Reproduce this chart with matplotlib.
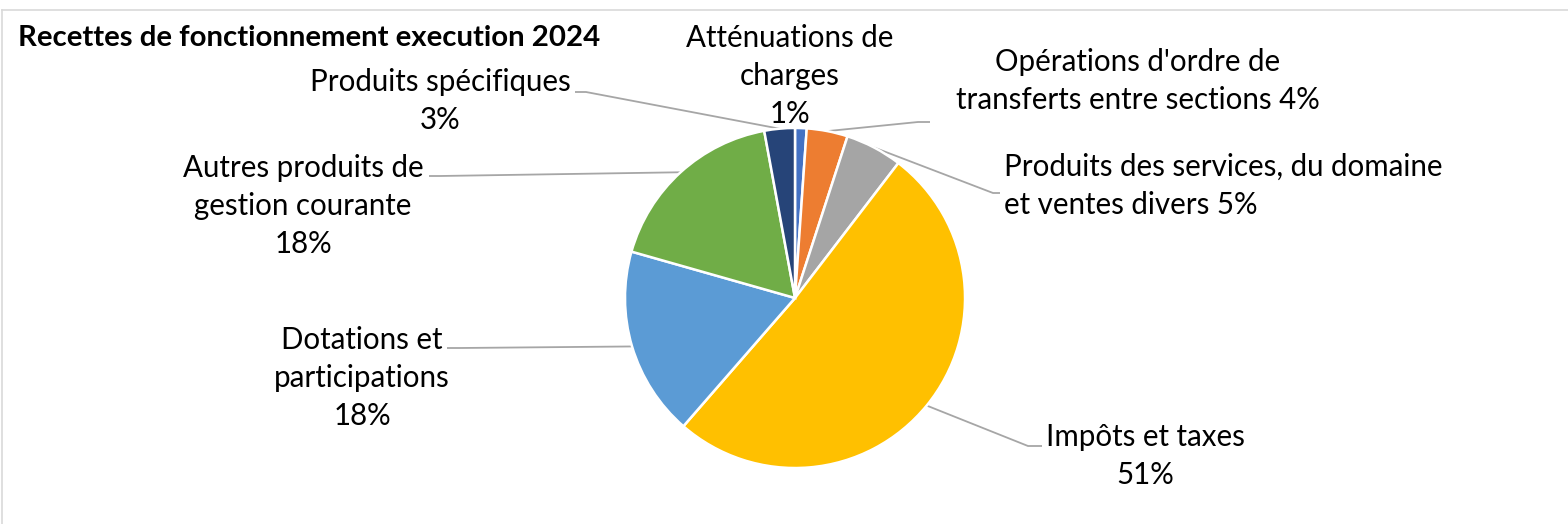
import matplotlib
matplotlib.use("Agg")
import matplotlib.pyplot as plt
from matplotlib.lines import Line2D
import numpy as np

# ---------------- data ----------------
title = "Recettes de fonctionnement execution 2024"
categories = [
    "Atténuations de\ncharges",
    "Opérations d'ordre de\ntransferts entre sections",
    "Produits des services, du domaine\net ventes divers",
    "Impôts et taxes",
    "Dotations et\nparticipations",
    "Autres produits de\ngestion courante",
    "Produits spécifiques",
]
shares = [1.1, 3.9, 5.4, 51.0, 18.0, 17.7, 2.9]
colors = ["#4472C4", "#ED7D31", "#A5A5A5", "#FFC000", "#5B9BD5", "#70AD47", "#264478"]
pct_sep = ["\n", " ", " ", "\n", "\n", "\n", "\n"]
explode = [0, 0, 0, 0.03, 0, 0, 0]

# ---------------- layout (pixel coords, y from top) ----------------
W, H = 1568, 524
FONT = "Lato"
fig = plt.figure(figsize=(W / 100, H / 100), dpi=100)
ax = fig.add_axes([0, 0, 1, 1])

def Y(y):
    return H - y

cx, cy, R = 795, 298, 170

wedges, _ = ax.pie(shares, colors=colors, startangle=90, counterclock=False,
                   center=(cx, Y(cy)), radius=R, explode=explode,
                   wedgeprops=dict(edgecolor="white", linewidth=1.8))
ax.set_xlim(0, W)
ax.set_ylim(0, H)
ax.set_aspect("equal")
ax.axis("off")

# fit font sizes so that reference lines have the widths seen in the chart
def fit(text, target, weight="normal"):
    probe = ax.text(0, 0, text, fontsize=20, family=FONT, fontweight=weight)
    fig.canvas.draw()
    wpx = probe.get_window_extent().width
    probe.remove()
    return 20 * target / wpx

fs = fit("Produits des services, du domaine", 440)
fs_title = fit(title, 584, "bold")

# label placement: (x, y block center, ha, leader points after the wedge point)
label_style = [
    (790, 76, "center", None),
    (1138, 81, "center", [(918, 122), (930, 122)]),
    (1004, 186, "left", [(993, 193), (1000, 193)]),
    (1145, 456, "center", [(1028, 446), (1042, 446)]),
    (362, 378, "center", [(460, 348), (447, 348)]),
    (303, 206, "center", [(440, 176), (429, 176)]),
    (440, 101, "center", [(586, 92), (575, 92)]),
]

for w, cat, v, sep, (tx, ty, ha, leader) in zip(wedges, categories, shares, pct_sep, label_style):
    txt = f"{cat}{sep}{round(v)}%"
    ax.text(tx, Y(ty), txt, ha=ha, va="center", multialignment=ha,
            fontsize=fs, family=FONT, color="#000000", linespacing=1.45)
    if leader:
        mid = np.deg2rad((w.theta1 + w.theta2) / 2)
        x0 = w.center[0] + w.r * np.cos(mid)
        y0 = w.center[1] + w.r * np.sin(mid)
        xs = [x0] + [p[0] for p in leader]
        ys = [y0] + [Y(p[1]) for p in leader]
        ax.plot(xs, ys, color="#A6A6A6", lw=1.3, solid_capstyle="butt", zorder=0)

# title
ax.text(18, Y(38), title, ha="left", va="center", fontsize=fs_title,
        fontweight="bold", family=FONT, color="#000000")

# chart area border (top and left visible)
fig.add_artist(Line2D([1.5 / W, 1], [1 - 9.5 / H, 1 - 9.5 / H], color="#D9D9D9", lw=1.2,
                      transform=fig.transFigure))
fig.add_artist(Line2D([1.5 / W, 1.5 / W], [0, 1 - 9.5 / H], color="#D9D9D9", lw=1.2,
                      transform=fig.transFigure))

fig.savefig("out.png", dpi=100, facecolor="white")
